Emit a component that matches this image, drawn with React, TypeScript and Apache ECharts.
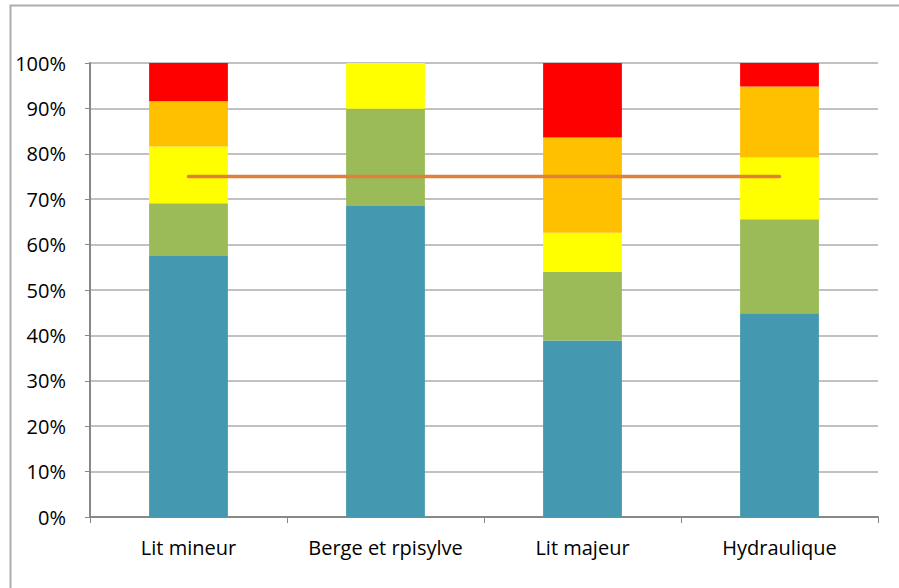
import React, { useEffect, useRef } from "react";
import * as echarts from "echarts";

const categories = ["Lit mineur", "Berge et rpisylve", "Lit majeur", "Hydraulique"];
const blueValues = [57.5, 68.5, 38.9, 44.9];
const greenValues = [11.6, 21.4, 15.1, 20.7];
const yellowValues = [12.5, 10.1, 8.6, 13.6];
const orangeValues = [10.0, 0, 21.0, 15.6];
const redValues = [8.4, 0, 16.4, 5.2];
const thresholdValues = [75, 75, 75, 75];

const COLORS = {
  blue: "#4499B0",
  green: "#9BBB59",
  yellow: "#FFFF00",
  orange: "#FFC000",
  red: "#FF0000",
  line: "#E0803A",
};

export default function App() {
  const ref = useRef<HTMLDivElement>(null);
  useEffect(() => {
    if (!ref.current) return;
    const chart = echarts.init(ref.current, undefined, { renderer: "svg" });
    const font = "Open Sans";
    const bar = (name: string, data: number[], color: string) => ({
      name,
      type: "bar",
      stack: "total",
      data,
      barWidth: "40%",
      itemStyle: { color },
      emphasis: { disabled: true },
    });
    chart.setOption({
      animation: false,
      backgroundColor: "#ffffff",
      graphic: [
        {
          type: "rect",
          shape: { x: 10.5, y: 5.5, width: 920, height: 620 },
          style: { fill: "none", stroke: "#ADADAD", lineWidth: 2 },
          silent: true,
        },
      ],
      grid: { left: 90, right: 21, top: 63, bottom: 71, containLabel: false },
      xAxis: {
        type: "category",
        data: categories,
        boundaryGap: true,
        axisLine: { show: true, lineStyle: { color: "#888888", width: 2 } },
        axisTick: { show: true, interval: 0, length: 6, alignWithLabel: false, lineStyle: { color: "#888888", width: 1 } },
        axisLabel: { color: "#000000", fontFamily: font, fontSize: 20, margin: 20, interval: 0, hideOverlap: false },
        splitLine: { show: false },
      },
      yAxis: {
        type: "value",
        min: 0,
        max: 100,
        interval: 10,
        axisLine: { show: true, lineStyle: { color: "#888888", width: 2 } },
        axisTick: { show: true, length: 5, lineStyle: { color: "#888888" } },
        axisLabel: {
          color: "#000000",
          fontFamily: font,
          fontSize: 20,
          margin: 24,
          formatter: (v: number) => v + "%",
        },
        splitLine: { show: true, lineStyle: { color: "#ADADAD", width: 1.5 } },
      },
      series: [
        bar("Bleu", blueValues, COLORS.blue),
        bar("Vert", greenValues, COLORS.green),
        bar("Jaune", yellowValues, COLORS.yellow),
        bar("Orange", orangeValues, COLORS.orange),
        bar("Rouge", redValues, COLORS.red),
        {
          name: "Seuil",
          type: "line",
          data: thresholdValues,
          showSymbol: false,
          symbol: "none",
          lineStyle: { color: COLORS.line, width: 3.5, cap: "round" },
          z: 5,
        },
      ],
    });
    return () => chart.dispose();
  }, []);
  return (
    <div
      ref={ref}
      style={{ position: "fixed", left: 0, top: 0, width: 899, height: 588, background: "#fff" }}
    />
  );
}
